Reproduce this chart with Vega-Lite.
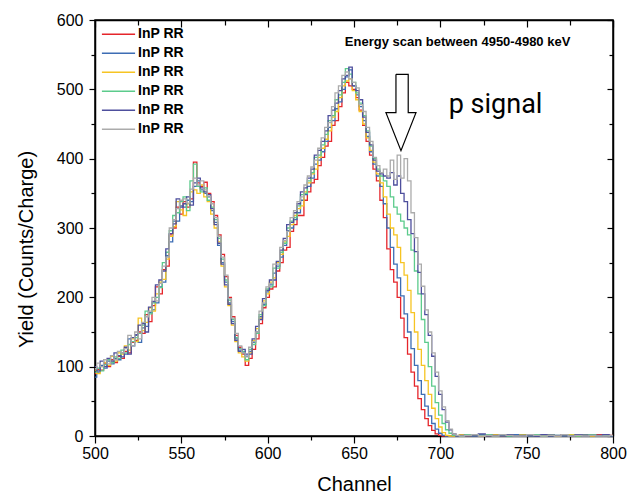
{
  "$schema": "https://vega.github.io/schema/vega-lite/v6.json",
  "width": 518,
  "height": 416,
  "autosize": {"type": "none"},
  "padding": {"left": 95, "top": 20, "right": 16, "bottom": 64},
  "background": "white",
  "config": {
    "view": {"stroke": "black", "strokeWidth": 1.5},
    "font": "Liberation Sans"
  },
  "datasets": {
    "spectra": [
      {"c":500,"s1":90,"s2":85,"s3":95,"s4":92,"s5":100,"s6":97},
      {"c":502,"s1":96,"s2":92,"s3":90,"s4":98,"s5":94,"s6":105},
      {"c":504,"s1":95,"s2":102,"s3":100,"s4":94,"s5":108,"s6":100},
      {"c":506,"s1":104,"s2":98,"s3":106,"s4":103,"s5":100,"s6":110},
      {"c":508,"s1":100,"s2":108,"s3":102,"s4":110,"s5":112,"s6":104},
      {"c":510,"s1":110,"s2":104,"s3":115,"s4":106,"s5":108,"s6":116},
      {"c":512,"s1":106,"s2":112,"s3":108,"s4":114,"s5":120,"s6":110},
      {"c":514,"s1":115,"s2":110,"s3":120,"s4":112,"s5":116,"s6":122},
      {"c":516,"s1":112,"s2":120,"s3":118,"s4":124,"s5":114,"s6":120},
      {"c":518,"s1":122,"s2":118,"s3":130,"s4":120,"s5":128,"s6":126},
      {"c":520,"s1":120,"s2":140,"s3":124,"s4":132,"s5":118,"s6":145},
      {"c":522,"s1":135,"s2":130,"s3":140,"s4":136,"s5":142,"s6":130},
      {"c":524,"s1":138,"s2":145,"s3":136,"s4":142,"s5":146,"s6":150},
      {"c":526,"s1":150,"s2":135,"s3":170,"s4":148,"s5":160,"s6":140},
      {"c":528,"s1":148,"s2":156,"s3":152,"s4":160,"s5":162,"s6":164},
      {"c":530,"s1":175,"s2":158,"s3":164,"s4":180,"s5":150,"s6":172},
      {"c":532,"s1":165,"s2":178,"s3":185,"s4":176,"s5":186,"s6":180},
      {"c":534,"s1":188,"s2":182,"s3":180,"s4":192,"s5":194,"s6":200},
      {"c":536,"s1":215,"s2":192,"s3":205,"s4":200,"s5":218,"s6":195},
      {"c":538,"s1":205,"s2":215,"s3":222,"s4":214,"s5":225,"s6":220},
      {"c":540,"s1":240,"s2":222,"s3":226,"s4":250,"s5":238,"s6":245},
      {"c":542,"s1":245,"s2":260,"s3":255,"s4":265,"s5":270,"s6":258},
      {"c":544,"s1":290,"s2":280,"s3":288,"s4":296,"s5":292,"s6":300},
      {"c":546,"s1":300,"s2":310,"s3":302,"s4":318,"s5":306,"s6":312},
      {"c":548,"s1":330,"s2":310,"s3":338,"s4":322,"s5":342,"s6":328},
      {"c":550,"s1":320,"s2":332,"s3":326,"s4":338,"s5":330,"s6":340},
      {"c":552,"s1":338,"s2":330,"s3":318,"s4":345,"s5":335,"s6":342},
      {"c":554,"s1":330,"s2":340,"s3":335,"s4":325,"s5":345,"s6":336},
      {"c":556,"s1":342,"s2":338,"s3":352,"s4":368,"s5":333,"s6":356},
      {"c":558,"s1":395,"s2":360,"s3":355,"s4":392,"s5":365,"s6":372},
      {"c":560,"s1":365,"s2":368,"s3":350,"s4":360,"s5":372,"s6":362},
      {"c":562,"s1":360,"s2":355,"s3":362,"s4":352,"s5":358,"s6":368},
      {"c":564,"s1":366,"s2":350,"s3":345,"s4":358,"s5":352,"s6":355},
      {"c":566,"s1":350,"s2":345,"s3":338,"s4":340,"s5":348,"s6":346},
      {"c":568,"s1":338,"s2":325,"s3":320,"s4":330,"s5":328,"s6":335},
      {"c":570,"s1":318,"s2":308,"s3":300,"s4":312,"s5":305,"s6":315},
      {"c":572,"s1":290,"s2":275,"s3":280,"s4":285,"s5":278,"s6":288},
      {"c":574,"s1":262,"s2":250,"s3":245,"s4":255,"s5":248,"s6":258},
      {"c":576,"s1":230,"s2":222,"s3":215,"s4":225,"s5":218,"s6":232},
      {"c":578,"s1":200,"s2":192,"s3":188,"s4":196,"s5":190,"s6":198},
      {"c":580,"s1":172,"s2":165,"s3":160,"s4":168,"s5":162,"s6":170},
      {"c":582,"s1":145,"s2":140,"s3":136,"s4":142,"s5":138,"s6":148},
      {"c":584,"s1":128,"s2":124,"s3":120,"s4":126,"s5":122,"s6":130},
      {"c":586,"s1":118,"s2":120,"s3":114,"s4":122,"s5":125,"s6":120},
      {"c":588,"s1":102,"s2":115,"s3":108,"s4":110,"s5":118,"s6":114},
      {"c":590,"s1":112,"s2":122,"s3":120,"s4":125,"s5":118,"s6":128},
      {"c":592,"s1":125,"s2":135,"s3":138,"s4":132,"s5":140,"s6":136},
      {"c":594,"s1":140,"s2":150,"s3":155,"s4":148,"s5":158,"s6":150},
      {"c":596,"s1":162,"s2":172,"s3":170,"s4":175,"s5":168,"s6":180},
      {"c":598,"s1":185,"s2":190,"s3":195,"s4":188,"s5":198,"s6":192},
      {"c":600,"s1":200,"s2":208,"s3":205,"s4":212,"s5":210,"s6":215},
      {"c":602,"s1":212,"s2":218,"s3":222,"s4":215,"s5":225,"s6":220},
      {"c":604,"s1":215,"s2":235,"s3":228,"s4":242,"s5":225,"s6":248},
      {"c":606,"s1":238,"s2":245,"s3":250,"s4":242,"s5":252,"s6":248},
      {"c":608,"s1":250,"s2":258,"s3":262,"s4":265,"s5":268,"s6":272},
      {"c":610,"s1":268,"s2":275,"s3":280,"s4":278,"s5":285,"s6":282},
      {"c":612,"s1":272,"s2":296,"s3":288,"s4":300,"s5":305,"s6":295},
      {"c":614,"s1":295,"s2":300,"s3":305,"s4":310,"s5":308,"s6":315},
      {"c":616,"s1":305,"s2":312,"s3":318,"s4":315,"s5":322,"s6":325},
      {"c":618,"s1":318,"s2":322,"s3":328,"s4":332,"s5":335,"s6":338},
      {"c":620,"s1":318,"s2":340,"s3":332,"s4":348,"s5":352,"s6":345},
      {"c":622,"s1":340,"s2":348,"s3":352,"s4":350,"s5":358,"s6":362},
      {"c":624,"s1":352,"s2":360,"s3":365,"s4":368,"s5":372,"s6":375},
      {"c":626,"s1":365,"s2":372,"s3":378,"s4":380,"s5":385,"s6":388},
      {"c":628,"s1":370,"s2":392,"s3":385,"s4":402,"s5":405,"s6":398},
      {"c":630,"s1":390,"s2":398,"s3":402,"s4":405,"s5":412,"s6":415},
      {"c":632,"s1":402,"s2":410,"s3":415,"s4":420,"s5":425,"s6":430},
      {"c":634,"s1":418,"s2":425,"s3":428,"s4":435,"s5":440,"s6":445},
      {"c":636,"s1":425,"s2":445,"s3":440,"s4":455,"s5":462,"s6":452},
      {"c":638,"s1":448,"s2":455,"s3":460,"s4":462,"s5":470,"s6":475},
      {"c":640,"s1":455,"s2":472,"s3":468,"s4":485,"s5":480,"s6":495},
      {"c":642,"s1":475,"s2":482,"s3":488,"s4":492,"s5":498,"s6":505},
      {"c":644,"s1":495,"s2":500,"s3":505,"s4":510,"s5":515,"s6":520},
      {"c":646,"s1":510,"s2":518,"s3":512,"s4":530,"s5":520,"s6":525},
      {"c":648,"s1":505,"s2":528,"s3":515,"s4":522,"s5":532,"s6":515},
      {"c":650,"s1":500,"s2":505,"s3":498,"s4":510,"s5":505,"s6":510},
      {"c":652,"s1":488,"s2":492,"s3":485,"s4":495,"s5":498,"s6":502},
      {"c":654,"s1":470,"s2":475,"s3":468,"s4":480,"s5":485,"s6":478},
      {"c":656,"s1":448,"s2":455,"s3":450,"s4":462,"s5":460,"s6":468},
      {"c":658,"s1":425,"s2":432,"s3":430,"s4":440,"s5":438,"s6":445},
      {"c":660,"s1":405,"s2":410,"s3":412,"s4":418,"s5":420,"s6":425},
      {"c":662,"s1":385,"s2":392,"s3":395,"s4":400,"s5":398,"s6":402},
      {"c":664,"s1":368,"s2":375,"s3":378,"s4":385,"s5":382,"s6":390},
      {"c":666,"s1":340,"s2":360,"s3":365,"s4":375,"s5":378,"s6":380},
      {"c":668,"s1":315,"s2":335,"s3":345,"s4":368,"s5":375,"s6":385},
      {"c":670,"s1":270,"s2":300,"s3":320,"s4":360,"s5":372,"s6":375},
      {"c":672,"s1":240,"s2":272,"s3":300,"s4":345,"s5":380,"s6":398},
      {"c":674,"s1":222,"s2":248,"s3":290,"s4":330,"s5":362,"s6":370},
      {"c":676,"s1":200,"s2":228,"s3":272,"s4":320,"s5":375,"s6":405},
      {"c":678,"s1":170,"s2":202,"s3":250,"s4":310,"s5":350,"s6":372},
      {"c":680,"s1":142,"s2":176,"s3":232,"s4":300,"s5":338,"s6":400},
      {"c":682,"s1":118,"s2":150,"s3":210,"s4":290,"s5":312,"s6":368},
      {"c":684,"s1":92,"s2":126,"s3":178,"s4":268,"s5":292,"s6":322},
      {"c":686,"s1":72,"s2":102,"s3":150,"s4":238,"s5":266,"s6":286},
      {"c":688,"s1":54,"s2":80,"s3":125,"s4":205,"s5":236,"s6":248},
      {"c":690,"s1":38,"s2":60,"s3":102,"s4":168,"s5":205,"s6":216},
      {"c":692,"s1":25,"s2":43,"s3":80,"s4":135,"s5":175,"s6":182},
      {"c":694,"s1":15,"s2":29,"s3":60,"s4":100,"s5":145,"s6":150},
      {"c":696,"s1":8,"s2":18,"s3":40,"s4":72,"s5":115,"s6":120},
      {"c":698,"s1":3,"s2":10,"s3":25,"s4":48,"s5":86,"s6":92},
      {"c":700,"s1":1,"s2":4,"s3":13,"s4":30,"s5":60,"s6":65},
      {"c":702,"s1":0,"s2":1,"s3":5,"s4":18,"s5":38,"s6":42},
      {"c":704,"s1":0,"s2":0,"s3":1,"s4":9,"s5":20,"s6":22},
      {"c":706,"s1":0,"s2":0,"s3":0,"s4":4,"s5":9,"s6":10},
      {"c":708,"s1":0,"s2":0,"s3":0,"s4":1,"s5":3,"s6":3},
      {"c":710,"s1":0,"s2":0,"s3":0,"s4":0,"s5":0,"s6":1},
      {"c":712,"s1":1,"s2":0,"s3":2,"s4":0,"s5":1,"s6":0},
      {"c":716,"s1":0,"s2":1,"s3":0,"s4":2,"s5":0,"s6":1},
      {"c":720,"s1":2,"s2":0,"s3":1,"s4":0,"s5":0,"s6":2},
      {"c":724,"s1":0,"s2":2,"s3":0,"s4":1,"s5":3,"s6":0},
      {"c":728,"s1":1,"s2":0,"s3":0,"s4":2,"s5":0,"s6":1},
      {"c":732,"s1":0,"s2":1,"s3":2,"s4":0,"s5":1,"s6":0},
      {"c":736,"s1":2,"s2":0,"s3":0,"s4":1,"s5":0,"s6":2},
      {"c":740,"s1":0,"s2":0,"s3":1,"s4":0,"s5":2,"s6":1},
      {"c":744,"s1":1,"s2":2,"s3":0,"s4":0,"s5":0,"s6":0},
      {"c":748,"s1":0,"s2":0,"s3":2,"s4":1,"s5":1,"s6":0},
      {"c":752,"s1":2,"s2":1,"s3":0,"s4":0,"s5":0,"s6":2},
      {"c":756,"s1":0,"s2":0,"s3":1,"s4":2,"s5":0,"s6":1},
      {"c":760,"s1":1,"s2":0,"s3":0,"s4":0,"s5":2,"s6":0},
      {"c":764,"s1":0,"s2":2,"s3":1,"s4":0,"s5":0,"s6":1},
      {"c":768,"s1":0,"s2":0,"s3":0,"s4":1,"s5":1,"s6":0},
      {"c":772,"s1":2,"s2":1,"s3":0,"s4":0,"s5":0,"s6":2},
      {"c":776,"s1":0,"s2":0,"s3":2,"s4":1,"s5":0,"s6":0},
      {"c":780,"s1":1,"s2":0,"s3":0,"s4":0,"s5":2,"s6":1},
      {"c":784,"s1":0,"s2":2,"s3":1,"s4":0,"s5":0,"s6":0},
      {"c":788,"s1":0,"s2":0,"s3":0,"s4":2,"s5":1,"s6":1},
      {"c":792,"s1":2,"s2":1,"s3":0,"s4":0,"s5":0,"s6":0},
      {"c":796,"s1":0,"s2":0,"s3":1,"s4":1,"s5":2,"s6":0},
      {"c":800,"s1":1,"s2":0,"s3":0,"s4":0,"s5":0,"s6":1}
    ],
    "arrow": [
      {"i":0,"c":674.3,"v":521.7},
      {"i":1,"c":681.4,"v":521.7},
      {"i":2,"c":681.4,"v":466.3},
      {"i":3,"c":685.9,"v":466.3},
      {"i":4,"c":677.2,"v":411.5},
      {"i":5,"c":668.5,"v":466.3},
      {"i":6,"c":674.3,"v":466.3},
      {"i":7,"c":674.3,"v":521.7}
    ],
    "scanNote": [{"c":710,"v":562.5,"t":"Energy scan between 4950-4980 keV"}],
    "signalNote": [{"c":732,"v":466,"t":"p signal"}]
  },
  "layer": [
    {
      "data": {"name": "spectra"},
      "transform": [{"fold": ["s1","s2","s3","s4","s5","s6"], "as": ["series","yield"]}],
      "mark": {"type": "line", "interpolate": "step", "strokeWidth": 1.3},
      "encoding": {
        "x": {
          "field": "c", "type": "quantitative",
          "scale": {"domain": [500, 800], "nice": false, "zero": false},
          "axis": {
            "orient": "bottom",
            "values": [500,525,550,575,600,625,650,675,700,725,750,775,800],
            "labelExpr": "datum.value % 50 === 0 ? datum.label : ''",
            "tickSize": {"condition": {"test": "datum.value % 50 === 0", "value": 7}, "value": 4},
            "grid": false,
            "domainColor": "black", "domainWidth": 1.5,
            "tickColor": "black", "tickWidth": 1.2,
            "labelColor": "black", "labelFontSize": 16, "labelPadding": 2,
            "labelFlush": false,
            "title": "Channel", "titleFontSize": 20, "titleFontWeight": "normal",
            "titleColor": "black", "titlePadding": 13
          }
        },
        "y": {
          "field": "yield", "type": "quantitative",
          "scale": {"domain": [0, 600], "nice": false},
          "axis": {
            "orient": "left",
            "values": [0,50,100,150,200,250,300,350,400,450,500,550,600],
            "labelExpr": "datum.value % 100 === 0 ? datum.label : ''",
            "tickSize": {"condition": {"test": "datum.value % 100 === 0", "value": 6}, "value": 4},
            "grid": false,
            "domainColor": "black", "domainWidth": 1.5,
            "tickColor": "black", "tickWidth": 1.2,
            "labelColor": "black", "labelFontSize": 16, "labelPadding": 6,
            "labelFlush": false,
            "title": "Yield (Counts/Charge)", "titleFontSize": 20, "titleFontWeight": "normal",
            "titleColor": "black", "titlePadding": 20, "titleY": 229
          }
        },
        "color": {
          "field": "series", "type": "nominal",
          "scale": {
            "domain": ["s1","s2","s3","s4","s5","s6"],
            "range": ["#e5252b","#3d6db4","#f6c423","#5ccb8c","#4e4f9d","#ababab"]
          },
          "legend": {
            "orient": "none", "legendX": 6, "legendY": 5,
            "title": null,
            "symbolType": "stroke", "symbolSize": 1100, "symbolStrokeWidth": 1.6,
            "labelExpr": "'InP RR'",
            "labelFontSize": 14, "labelFontWeight": "bold", "labelColor": "black",
            "labelOffset": 2, "rowPadding": 0, "clipHeight": 18.6
          }
        }
      }
    },
    {
      "data": {"name": "arrow"},
      "mark": {"type": "line", "stroke": "black", "strokeWidth": 1.2},
      "encoding": {
        "x": {
          "field": "c", "type": "quantitative",
          "axis": {
            "orient": "top",
            "values": [500,525,550,575,600,625,650,675,700,725,750,775,800],
            "labels": false, "title": null, "grid": false,
            "domainColor": "black", "domainWidth": 1.5,
            "tickColor": "black", "tickWidth": 1.2,
            "tickSize": {"condition": {"test": "datum.value % 50 === 0", "value": -7}, "value": -5}
          }
        },
        "y": {
          "field": "v", "type": "quantitative",
          "axis": {
            "orient": "right",
            "values": [0,50,100,150,200,250,300,350,400,450,500,550,600],
            "labels": false, "title": null, "grid": false,
            "domainColor": "black", "domainWidth": 1.5,
            "tickColor": "black", "tickWidth": 1.2,
            "tickSize": {"condition": {"test": "datum.value % 100 === 0", "value": -6}, "value": -4}
          }
        },
        "order": {"field": "i", "type": "quantitative"}
      }
    },
    {
      "data": {"name": "scanNote"},
      "mark": {"type": "text", "font": "Liberation Sans", "fontSize": 13, "fontWeight": "bold", "color": "black", "align": "center", "baseline": "alphabetic"},
      "encoding": {
        "x": {"field": "c", "type": "quantitative", "axis": null},
        "y": {"field": "v", "type": "quantitative", "axis": null},
        "text": {"field": "t"}
      }
    },
    {
      "data": {"name": "signalNote"},
      "mark": {"type": "text", "font": "Roboto", "fontSize": 27, "color": "black", "align": "center", "baseline": "alphabetic"},
      "encoding": {
        "x": {"field": "c", "type": "quantitative", "axis": null},
        "y": {"field": "v", "type": "quantitative", "axis": null},
        "text": {"field": "t"}
      }
    }
  ],
  "resolve": {"axis": {"x": "independent", "y": "independent"}}
}
